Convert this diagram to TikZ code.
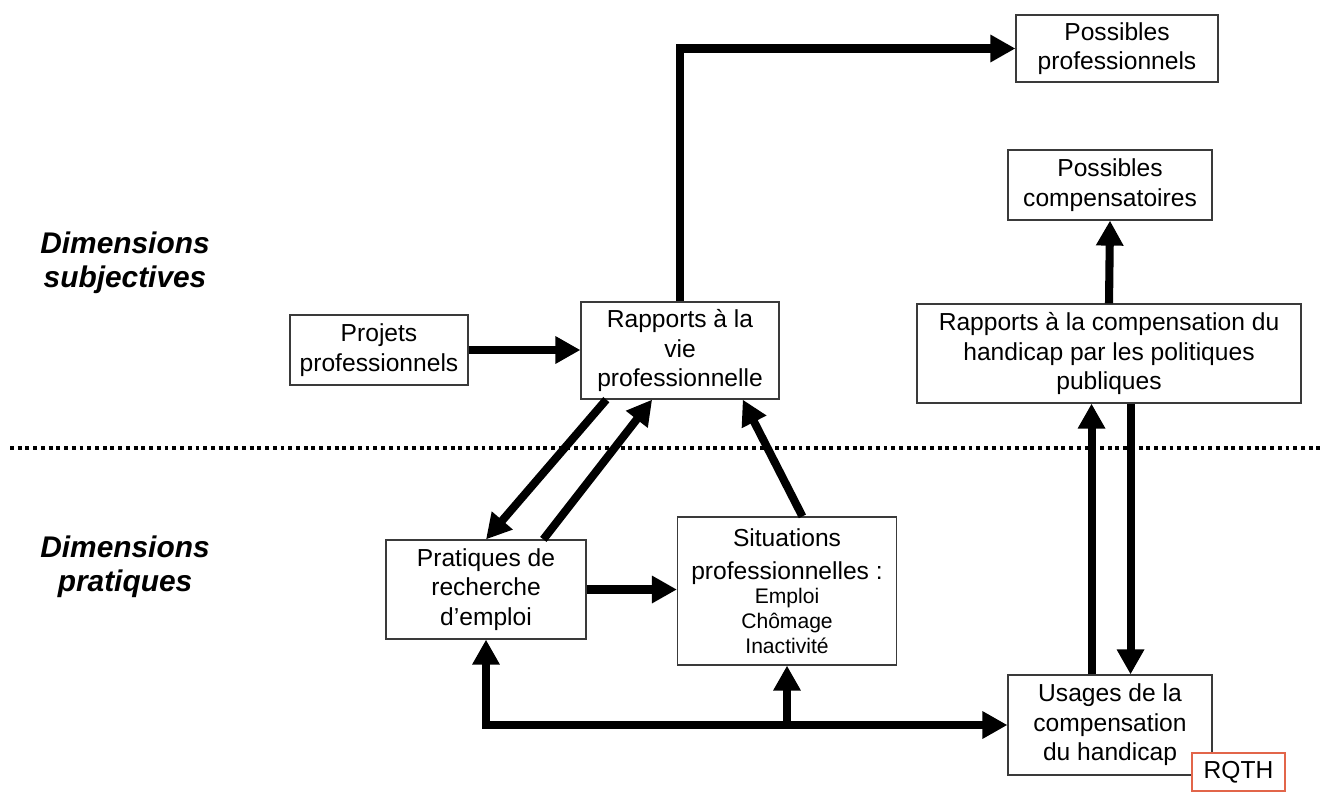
\documentclass[tikz,border=0pt]{standalone}
\usepackage{fontspec}
\setmainfont{Liberation Sans}
\usetikzlibrary{arrows.meta, calc}
\definecolor{boxline}{HTML}{3A3A3A}
\definecolor{rqthred}{HTML}{E2654A}
\newcommand\sitline{\fontsize{12}{13.4}\selectfont}

\begin{document}
\begin{tikzpicture}[x=0.02cm, y=-0.02cm,
  box/.style={draw=boxline, line width=0.7pt, fill=white, align=center, inner sep=0pt, font=\fontsize{14}{16.8}\selectfont},
  dimlabel/.style={align=center, font=\fontsize{17}{19.5}\selectfont\bfseries\itshape},
  flow/.style={line width=4.6pt, line join=miter, -{Triangle[length=0.5cm, width=0.52cm]}},
  flowboth/.style={line width=4.6pt, line join=miter, {Triangle[length=0.5cm, width=0.52cm]}-{Triangle[length=0.5cm, width=0.52cm]}}
]
  \useasboundingbox (0,0) rectangle (1327,791);

  % boundary between the two dimensions
  \draw[line width=2.2pt, dash pattern=on 2.2pt off 2.2pt] (10,448) -- (1320,448);

  \node[dimlabel] (subj) at (125,263) {Dimensions\\subjectives};
  \node[dimlabel] (prat) at (125,567) {Dimensions\\pratiques};

  % subjective side
  \node[box, minimum width=4.04cm, minimum height=1.34cm] (posspro) at (1117,48.5) {Possibles\\professionnels};
  \node[box, minimum width=4.08cm, minimum height=1.4cm] (posscomp) at (1110,185) {Possibles\\compensatoires};
  \node[box, minimum width=7.68cm, minimum height=1.98cm] (rapcomp) at (1109,353.5) {Rapports à la compensation du\\handicap par les politiques\\publiques};
  \node[box, minimum width=3.56cm, minimum height=1.4cm] (projets) at (379,350) {Projets\\professionnels};
  \node[box, minimum width=3.96cm, minimum height=1.94cm] (rapvie) at (680,350.5) {Rapports à la\\vie\\professionnelle};

  % practical side
  \node[box, minimum width=4.0cm, minimum height=1.98cm] (pratiques) at (486,589.5) {Pratiques de\\recherche\\d’emploi};
  \node[box, minimum width=4.38cm, minimum height=2.96cm] (situations) at (787,591) {Situations\\[2pt]professionnelles :\\[-3pt]\sitline Emploi\\[-2.7pt]\sitline Chômage\\[-2.7pt]\sitline Inactivité};
  \node[box, minimum width=4.08cm, minimum height=2.0cm] (usages) at (1110,725) {Usages de la\\compensation\\du handicap};
  \node[box, draw=rqthred, line width=1.1pt, minimum width=1.86cm, minimum height=0.76cm] (rqth) at (1238.5,772) {RQTH};

  \coordinate (usup) at ($(usages.north west)!0.41!(usages.north east)$);
  \coordinate (usdown) at ($(usages.north west)!0.6!(usages.north east)$);

  % connectors
  \draw[flow] (projets.east) -- (projets.east -| rapvie.west);
  \draw[flow] (rapvie.north) |- (posspro.west);
  \draw[flow] ($(rapvie.south west)!0.13!(rapvie.south east)$) -- (pratiques.north);
  \draw[flow] ($(pratiques.north west)!0.785!(pratiques.north east)$) -- ($(rapvie.south west)!0.36!(rapvie.south east)$);
  \draw[flow] ($(situations.north west)!0.57!(situations.north east)$) -- ($(rapvie.south west)!0.815!(rapvie.south east)$);
  \draw[flow] (pratiques.east) -- (pratiques.east -| situations.west);
  \draw[flowboth] (pratiques.south) |- (usages.west);
  \draw[flow] (situations.south |- usages.west) -- (situations.south);
  \draw[flow] (usup) -- (usup |- rapcomp.south);
  \draw[flow] (usdown |- rapcomp.south) -- (usdown);
  \draw[flow] (rapcomp.north) -- (posscomp.south);
\end{tikzpicture}
\end{document}
